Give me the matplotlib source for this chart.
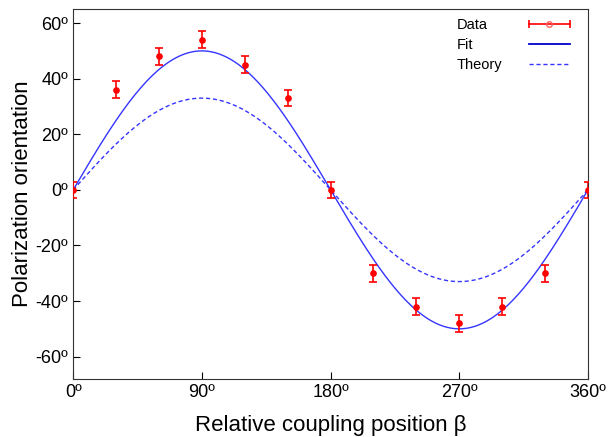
import matplotlib.pyplot as plt
from matplotlib.lines import Line2D
from matplotlib.legend_handler import HandlerLine2D
import numpy as np

plt.rcParams['font.family'] = ['Liberation Sans', 'DejaVu Sans']

beta = [0, 30, 60, 90, 120, 150, 180, 210, 240, 270, 300, 330, 360]
pol = [0, 36, 48, 54, 45, 33, 0, -30, -42, -48, -42, -30, 0]
err = [3, 3, 3, 3, 3, 3, 3, 3, 3, 3, 3, 3, 3]
fit_amp = 50
theory_amp = 33
xticks = [0, 90, 180, 270, 360]
yticks = [-60, -40, -20, 0, 20, 40, 60]
labels = ['Data', 'Fit', 'Theory']

fig = plt.figure(figsize=(6.15, 4.37), dpi=100)
ax = fig.add_axes([0.119, 0.133, 0.837, 0.846])

xs = np.linspace(0, 360, 400)
ax.errorbar(beta, pol, yerr=err, fmt='o', color='red', ms=3.8, ecolor='red',
            elinewidth=1.2, capsize=3, capthick=1.2, zorder=3)
ax.plot(xs, fit_amp * np.sin(np.radians(xs)), color='#3535ff', lw=1)
ax.plot(xs, theory_amp * np.sin(np.radians(xs)), color='#3535ff', lw=1,
        ls=(0, (3, 2)))

ax.set_xlim(0, 360)
ax.set_ylim(-68, 65)
ax.set_xticks(xticks)
ax.set_xticklabels([f'{t}º' for t in xticks])
ax.set_yticks(yticks)
ax.set_yticklabels([f'{t}º' for t in yticks])
ax.tick_params(direction='in', length=5, labelsize=13, top=False, right=False)
for s in ax.spines.values():
    s.set_color('#333333')
ax.set_xlabel('Relative coupling position β', fontsize=16, labelpad=10)
ax.set_ylabel('Polarization orientation', fontsize=16, labelpad=2)

# legend: text column on the left, handle column on the right
blank = [Line2D([], [], alpha=0) for _ in labels]
caps = Line2D([], [], color='red', lw=1.2, marker='|', ms=6, mew=1.2)
dot = Line2D([], [], ls='none', marker='o', ms=4, mfc='none', mec='#ff6060')
fit_h = Line2D([], [], color='#0000cc', lw=1.3)
th_h = Line2D([], [], color='#3535ff', lw=1, ls=(0, (3, 2)))
ax.legend(blank + [(caps, dot), fit_h, th_h], labels + ['', '', ''],
          ncol=2, loc='upper left', bbox_to_anchor=(0.618, 1.012),
          frameon=False, fontsize=10.5, handlelength=2.8, labelspacing=0.42,
          columnspacing=1.8, handletextpad=0.8,
          handler_map={caps: HandlerLine2D(numpoints=2, marker_pad=0)})

fig.savefig('out.png', dpi=100)
